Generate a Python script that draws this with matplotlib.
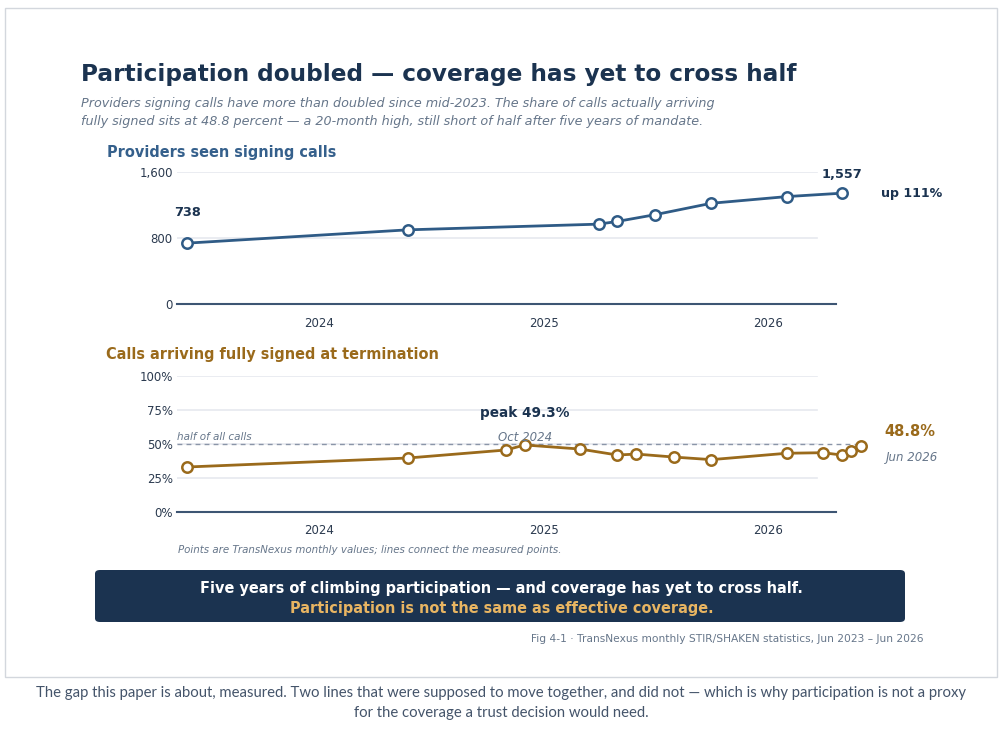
import pandas as pd
import matplotlib
matplotlib.use("Agg")
import matplotlib.pyplot as plt
from matplotlib.patches import Rectangle, FancyBboxPatch

plt.rcParams["font.family"] = "DejaVu Sans"

# providers seen signing calls (TransNexus monthly values)
prov_dates = ["2023-06-01", "2024-05-25", "2025-04-01", "2025-05-01",
              "2025-07-01", "2025-10-01", "2026-02-01", "2026-05-01"]
prov_vals = [738, 899, 968, 1001, 1082, 1221, 1302, 1343]

# share of calls arriving fully signed, percent
signed_dates = ["2023-06-01", "2024-05-25", "2024-11-01", "2024-12-01",
                "2025-03-01", "2025-05-01", "2025-06-01", "2025-08-01",
                "2025-10-01", "2026-02-01", "2026-04-01", "2026-05-01",
                "2026-05-16", "2026-06-01"]
signed_vals = [33.1, 39.7, 45.6, 49.3, 46.3, 41.9, 42.6, 40.4,
               38.5, 43.2, 43.6, 41.9, 45.1, 48.8]

prov_ticks = [0, 800, 1600]
prov_ticklabels = ["0", "800", "1,600"]
pct_ticks = [0, 25, 50, 75, 100]
pct_ticklabels = ["0%", "25%", "50%", "75%", "100%"]
year_ticks = ["2024-01-01", "2025-01-01", "2026-01-01"]
year_labels = ["2024", "2025", "2026"]

NAVY = "#1b3350"
BLUE = "#2f5b86"
GOLD = "#9a6a1b"
GREY = "#66768a"
AXIS = "#3d5573"
GRID = "#e6e9ef"

W, H = 1003, 733
fig = plt.figure(figsize=(W / 100, H / 100), dpi=100)

def fx(px):
    return px / W

def fy(py):
    return 1 - py / H

def P(px):  # pixels to points
    return px * 72 / 100

# card behind everything
fig.patches.append(Rectangle((fx(5), fy(677)), fx(992), 669 / H, transform=fig.transFigure,
                             facecolor="white", edgecolor="#d3d7dd", lw=1, zorder=-5))

xlim = pd.to_datetime(["2023-05-15", "2026-04-22"])

def setup(ax, ticks, labels, ymax):
    ax.set_xlim(xlim)
    ax.set_ylim(0, ymax)
    for s in ax.spines.values():
        s.set_visible(False)
    for t in ticks[1:]:
        ax.axhline(t, xmin=0, xmax=0.971, color=GRID, lw=1.2, zorder=0)
    ax.axhline(0, color=AXIS, lw=1.5, zorder=1, clip_on=False)
    ax.set_yticks(ticks)
    ax.set_yticklabels(labels)
    ax.set_xticks(pd.to_datetime(year_ticks))
    ax.set_xticklabels(year_labels)
    ax.tick_params(length=0, labelsize=8.5, colors="#2b3a4f")
    ax.tick_params(axis="x", pad=9)
    ax.tick_params(axis="y", pad=3)

def label(ax, txt, xy, dx, dy, **kw):
    ax.annotate(txt, xy, xytext=(P(dx), P(dy)), textcoords="offset points",
                va="center", annotation_clip=False, **kw)

# top panel
ax1 = fig.add_axes([fx(177), fy(304), fx(659), 132 / H])
setup(ax1, prov_ticks, prov_ticklabels, 1600)
pd_prov = pd.to_datetime(prov_dates)
ax1.plot(pd_prov, prov_vals, color=BLUE, lw=2, marker="o", ms=7.5, mfc="white",
         mec=BLUE, mew=1.8, clip_on=False, zorder=3)
label(ax1, "738", (pd_prov[0], prov_vals[0]), 0, 31, ha="center",
      fontsize=9.3, fontweight="bold", color=NAVY)
label(ax1, "1,557", (pd_prov[-1], prov_vals[-1]), 0, 19, ha="center",
      fontsize=9.3, fontweight="bold", color=NAVY)
label(ax1, "up 111%", (pd_prov[-1], prov_vals[-1]), 39, 0, ha="left",
      fontsize=9.1, fontweight="bold", color=NAVY)

# bottom panel
ax2 = fig.add_axes([fx(177), fy(512), fx(659), 136 / H])
setup(ax2, pct_ticks, pct_ticklabels, 100)
ax2.axhline(50, xmin=0, xmax=1.032, color="#8a95a8", lw=1, ls=(0, (3.5, 3)), clip_on=False, zorder=2)
ax2.text(xlim[0], 51.5, "half of all calls", ha="left", va="bottom",
         fontsize=7.5, style="italic", color=GREY)
pd_sig = pd.to_datetime(signed_dates)
ax2.plot(pd_sig, signed_vals, color=GOLD, lw=2, marker="o", ms=7.5, mfc="white",
         mec=GOLD, mew=1.8, clip_on=False, zorder=3)
ipk = signed_vals.index(max(signed_vals))
label(ax2, "peak 49.3%", (pd_sig[ipk], signed_vals[ipk]), 0, 32, ha="center",
      fontsize=9.8, fontweight="bold", color=NAVY)
label(ax2, "Oct 2024", (pd_sig[ipk], signed_vals[ipk]), 0, 7, ha="center",
      fontsize=8.5, style="italic", color=GREY)
label(ax2, "48.8%", (pd_sig[-1], signed_vals[-1]), 24, 14, ha="left",
      fontsize=10.5, fontweight="bold", color=GOLD)
label(ax2, "Jun 2026", (pd_sig[-1], signed_vals[-1]), 25, -12, ha="left",
      fontsize=8.5, style="italic", color=GREY)

# titles
fig.text(fx(81), fy(75), "Participation doubled \u2014 coverage has yet to cross half",
         fontsize=16.7, fontweight="bold", color=NAVY, va="center")
fig.text(fx(81), fy(104), "Providers signing calls have more than doubled since mid-2023. "
         "The share of calls actually arriving", fontsize=9.15, style="italic", color=GREY, va="center")
fig.text(fx(81), fy(122), "fully signed sits at 48.8 percent \u2014 a 20-month high, "
         "still short of half after five years of mandate.", fontsize=9.15, style="italic",
         color=GREY, va="center")
fig.text(fx(107), fy(152), "Providers seen signing calls", fontsize=10.45, fontweight="bold",
         color="#35608c", va="center")
fig.text(fx(106), fy(355), "Calls arriving fully signed at termination", fontsize=10.45,
         fontweight="bold", color=GOLD, va="center")
fig.text(fx(178), fy(550), "Points are TransNexus monthly values; lines connect the measured points.",
         fontsize=7.42, style="italic", color=GREY, va="center")

# takeaway box
fig.patches.append(FancyBboxPatch((fx(95), fy(622)), fx(810), 52 / H,
                                  boxstyle="round,pad=0,rounding_size=0.005",
                                  transform=fig.transFigure, facecolor=NAVY, edgecolor="none"))
fig.text(0.5, fy(589), "Five years of climbing participation \u2014 and coverage has yet to cross half.",
         ha="center", va="center", fontsize=10.44, fontweight="bold", color="white")
fig.text(0.5, fy(608), "Participation is not the same as effective coverage.",
         ha="center", va="center", fontsize=10.44, fontweight="bold", color="#e8b562")
fig.text(fx(924), fy(639), "Fig 4-1 \u00b7 TransNexus monthly STIR/SHAKEN statistics, Jun 2023 \u2013 Jun 2026",
         ha="right", va="center", fontsize=7.67, color=GREY)

# caption under the card
fig.text(0.5, fy(693), "The gap this paper is about, measured. Two lines that were supposed to move "
         "together, and did not \u2014 which is why participation is not a proxy",
         ha="center", va="center", fontsize=10.72, color="#44546a", family="Lato")
fig.text(0.5, fy(713), "for the coverage a trust decision would need.",
         ha="center", va="center", fontsize=10.72, color="#44546a", family="Lato")

fig.savefig("out.png", dpi=100, facecolor="white")
